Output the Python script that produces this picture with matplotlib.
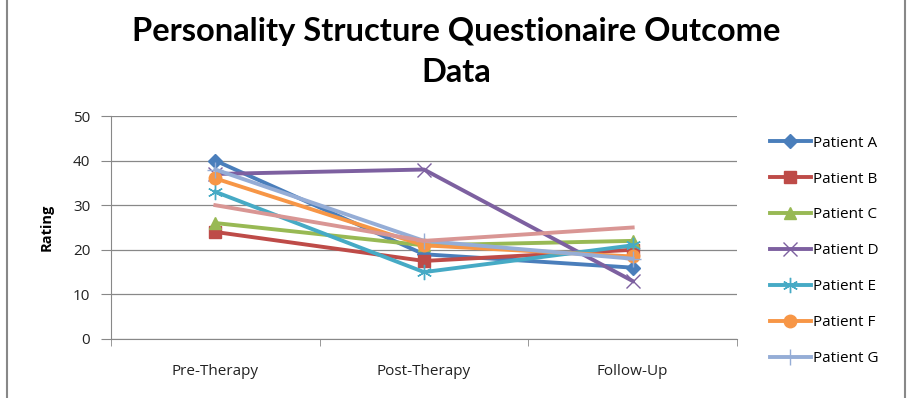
import matplotlib
matplotlib.use("Agg")
import matplotlib.pyplot as plt
from matplotlib.patches import Rectangle

plt.rcParams['font.family'] = ['Open Sans', 'DejaVu Sans']

# categories and ratings
stages = ["Pre-Therapy", "Post-Therapy", "Follow-Up"]
patients = ["Patient A", "Patient B", "Patient C", "Patient D",
            "Patient E", "Patient F", "Patient G", "Patient H"]
pat_a = [40, 19, 16]
pat_b = [24, 17.5, 20]
pat_c = [26, 21, 22]
pat_d = [37, 38, 13]
pat_e = [33, 15, 21]
pat_f = [36, 21, 18.5]
pat_g = [38, 22, 18]
pat_h = [30, 22, 25]
yticks = [0, 10, 20, 30, 40, 50]

series = [pat_a, pat_b, pat_c, pat_d, pat_e, pat_f, pat_g, pat_h]
colors = ["#4A7EBB", "#BE4B48", "#98B954", "#7D60A0", "#46AAC5",
          "#F79646", "#95ADD6", "#D99694"]
markers = ["D", "s", "^", "x", (6, 2, 0), "o", "+", None]
msizes = [7, 9, 8, 10, 11, 9, 11, 0]

fig = plt.figure(figsize=(9.13, 3.98), dpi=100)
ax = fig.add_axes([111/913, 1-339/398, (737-111)/913, (339-116)/398])

x = range(len(stages))
for i, vals in enumerate(series):
    mk = markers[i]
    if mk is None:
        # last series is drawn but its legend entry is cut off in the original
        ax.plot(x, vals, color=colors[i], lw=2.8, label="_" + patients[i], zorder=3)
    elif mk in ("x", "+") or isinstance(mk, tuple):
        ax.plot(x, vals, color=colors[i], lw=2.8, marker=mk, ms=msizes[i],
                mec=colors[i], mew=1.0, label=patients[i], zorder=3)
    else:
        ax.plot(x, vals, color=colors[i], lw=2.8, marker=mk, ms=msizes[i],
                mec=colors[i], label=patients[i], zorder=3)

ax.set_xlim(-0.5, 2.5)
ax.set_ylim(0, 50)
ax.set_yticks(yticks)
ax.set_xticks(list(x))
ax.set_xticklabels(stages, fontsize=11, color="#222222")
ax.tick_params(axis='y', labelsize=11, colors="#222222", length=7,
               color="#888888", pad=8)
ax.tick_params(axis='x', length=0, pad=18)
# category boundary tick marks
ax.set_xticks([-0.5, 0.5, 1.5, 2.5], minor=True)
ax.tick_params(axis='x', which='minor', length=5, color="#888888")
ax.grid(axis='y', color="#888888", lw=0.9)
ax.set_axisbelow(True)
for s in ['top', 'right']:
    ax.spines[s].set_visible(False)
for s in ['left', 'bottom']:
    ax.spines[s].set_color("#888888")
ax.set_ylabel("Rating", fontsize=10.5, fontweight='bold', labelpad=14)

leg = ax.legend(loc='upper left', bbox_to_anchor=(1.035, 0.96), frameon=False,
                fontsize=11, labelspacing=1.37, handlelength=2.7,
                handletextpad=0.15, borderaxespad=0.3)

fig.text(0.5, 0.958, "Personality Structure Questionaire Outcome\nData",
         ha='center', va='top', fontsize=23.5, fontweight='bold',
         family=['Lato', 'DejaVu Sans'], linespacing=1.5)

fig.patches.append(Rectangle((7/913, -0.05), (905-7)/913, 1.1,
                             transform=fig.transFigure, fill=False,
                             edgecolor="#888888", lw=1.5))

fig.savefig("out.png", dpi=100)
